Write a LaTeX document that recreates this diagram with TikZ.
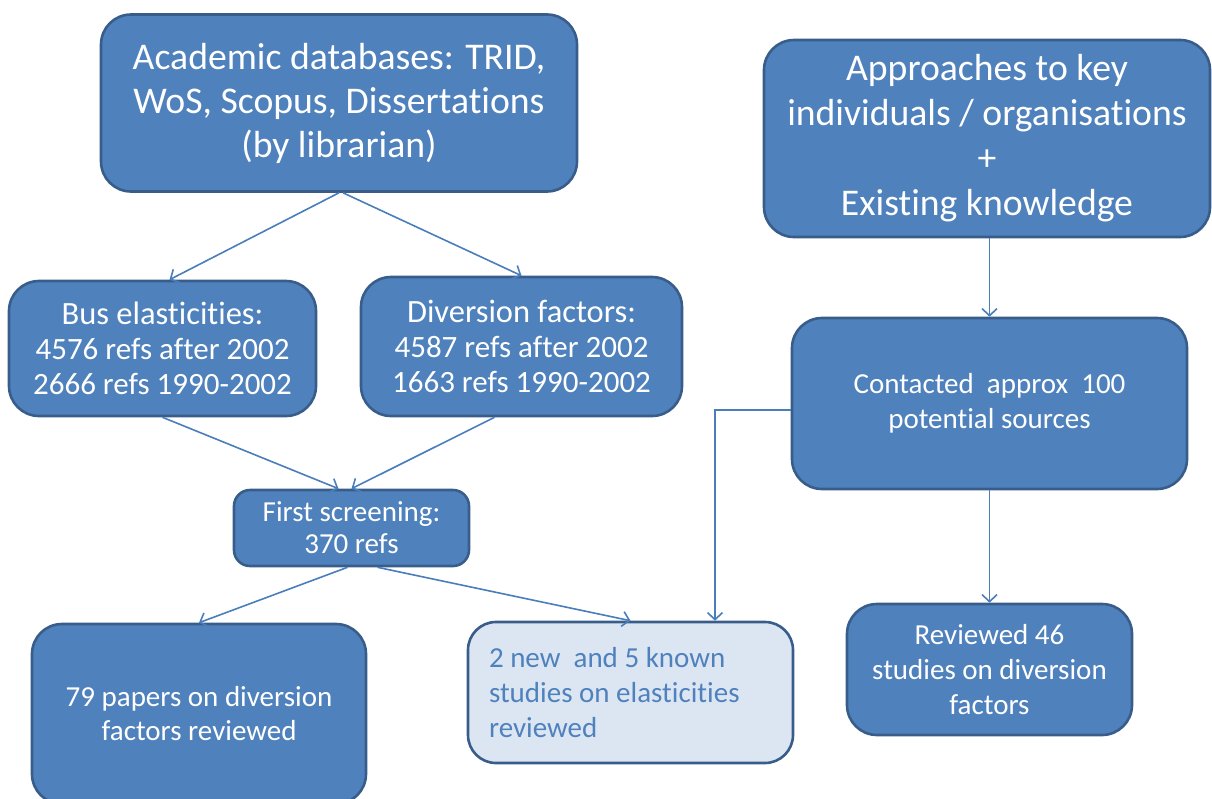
\documentclass[tikz,border=0pt]{standalone}
\usepackage{fontspec}
\setmainfont{Carlito}[Ligatures=NoCommon]
\usetikzlibrary{arrows.meta,calc}
\definecolor{boxblue}{HTML}{4F81BD}
\definecolor{boxedge}{HTML}{385D8A}
\definecolor{arrowblue}{HTML}{4A7EBB}
\definecolor{lightfill}{HTML}{DCE6F2}
\tikzset{
  box/.style={draw=boxedge, fill=boxblue, line width=2.6pt, rounded corners=30pt,
    text=white, align=center, inner sep=0pt},
  smallbox/.style={box, rounded corners=16pt},
  lightbox/.style={draw=boxedge, fill=lightfill, line width=2.6pt, rounded corners=28pt,
    text=boxblue, align=flush left, inner xsep=21pt, inner ysep=0pt},
  conn/.style={draw=arrowblue, line width=1.6pt, -{Straight Barb[length=7pt,width=15pt,line width=1.6pt]}}
}
\newcommand{\fs}[2]{\fontsize{#1}{#2}\selectfont}
\begin{document}
\begin{tikzpicture}[x=1pt,y=-1pt]
\useasboundingbox (0,0) rectangle (1212,798);
% nodes
\node[box, minimum width=476, minimum height=177, font=\fs{37.7}{44}] (acad) at (339,103)
  {Academic databases: TRID,\\WoS, Scopus, Dissertations\\(by librarian)};
\node[box, minimum width=446, minimum height=197, font=\fs{37.7}{45}] (appr) at (987,138.5)
  {Approaches to key\\individuals / organisations\\+\\Existing knowledge};
\node[box, minimum width=307, minimum height=135, font=\fs{31}{35}] (bus) at (162.5,348.5)
  {{\fs{32.5}{36}Bus elasticities:}\\4576 refs after 2002\\2666 refs 1990-2002};
\node[box, minimum width=321, minimum height=139, font=\fs{31}{35}] (div) at (521.5,346.5)
  {{\fs{32.5}{36}Diversion factors:}\\4587 refs after 2002\\1663 refs 1990-2002};
\node[smallbox, minimum width=235, minimum height=76, font=\fs{29}{32}] (first) at (351.5,528)
  {First screening:\\370 refs};
\node[box, minimum width=395, minimum height=171, font=\fs{29}{35}] (cont) at (989.5,403.5)
  {Contacted\ \ approx\ \ 100\\potential sources};
\node[box, minimum width=334, minimum height=180, font=\fs{29}{34}] (pap) at (199,714)
  {79 papers on diversion\\factors reviewed};
\node[lightbox, minimum width=325, minimum height=141, text width=283, font=\fs{29}{35}] (known) at (630.5,692.5)
  {2 new\ \ and 5 known\\studies on elasticities\\reviewed};
\node[box, minimum width=285, minimum height=131, font=\fs{29}{35}] (rev) at (989.5,669.5)
  {Reviewed 46\\studies on diversion\\factors};
% connectors
\draw[conn] (acad.south) -- ($(bus.north)+(7,0)$);
\draw[conn] ($(acad.south)+(4,0)$) -- (div.north);
\draw[conn] (bus.south) -- ($(first.north)+(-13,0)$);
\draw[conn] ($(div.south)+(-27,0)$) -- (first.north);
\draw[conn] ($(first.south)+(-4,0)$) -- (pap.north);
\draw[conn] ($(first.south)+(26,0)$) -- (known.north);
\draw[conn] (cont.north |- appr.south) -- (cont.north);
\coordinate (elbow) at (715,410);
\draw[conn] ($(cont.west)+(0,6.5)$) -- (elbow) -- (elbow |- known.north);
\draw[conn] (cont.south) -- (rev.north);
\end{tikzpicture}
\end{document}
